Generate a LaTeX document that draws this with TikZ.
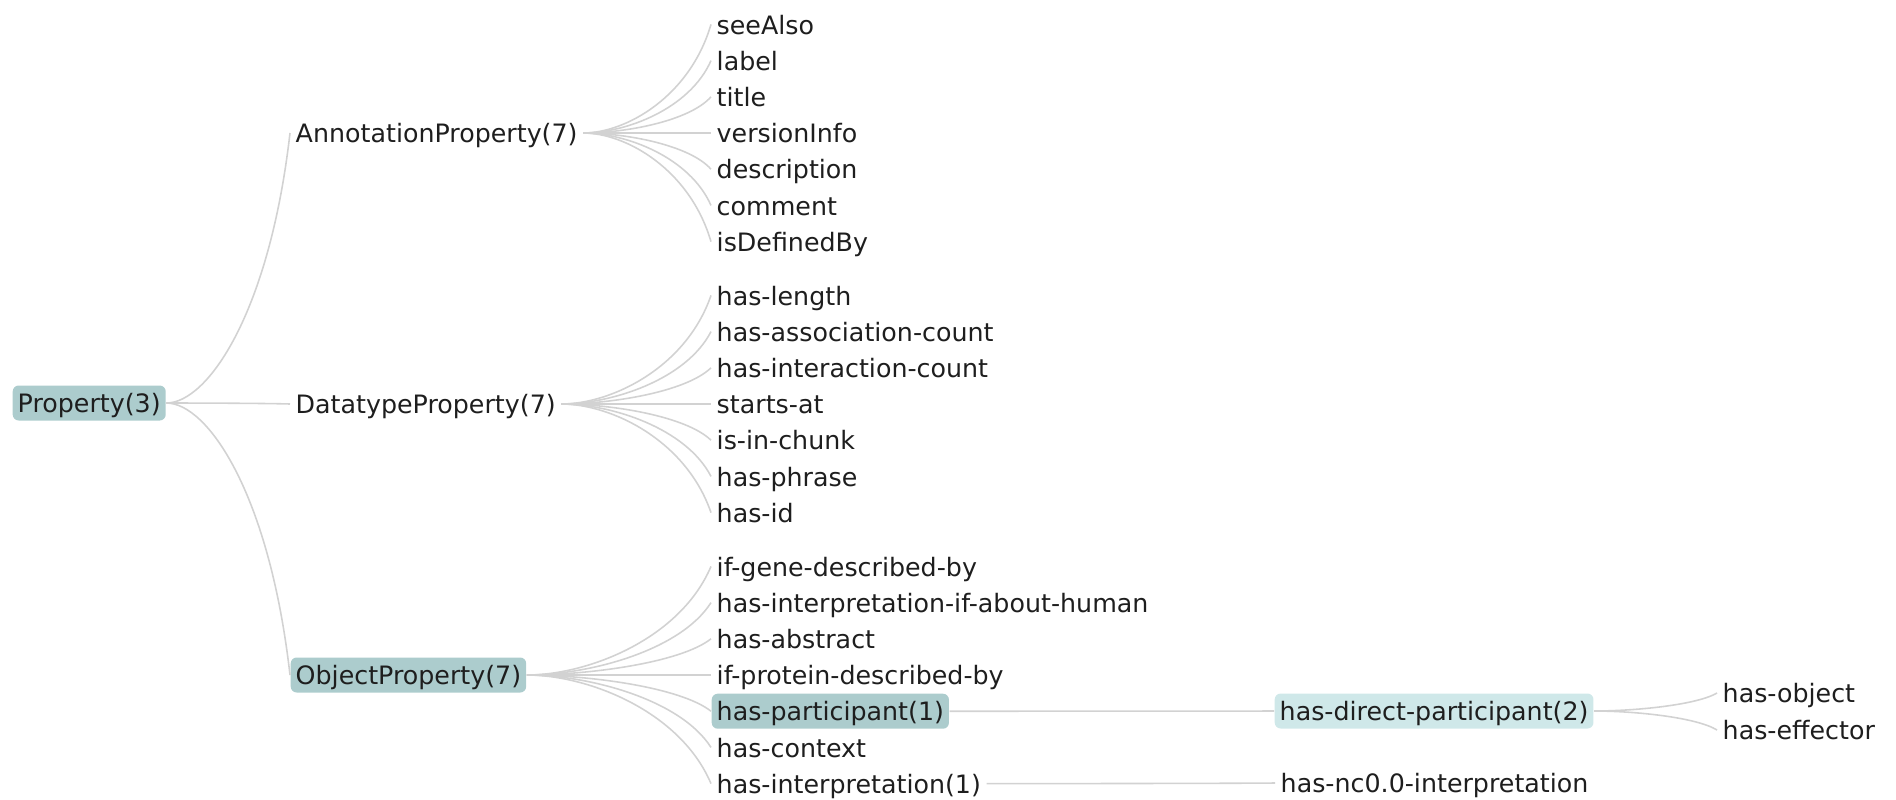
\documentclass[tikz,border=0pt]{standalone}
\usepackage{fontspec}
\setmainfont{DejaVu Sans}
\usepackage{xcolor}
\usepackage{tikz}
\usetikzlibrary{calc}

\definecolor{linkgray}{HTML}{D2D2D2}
\definecolor{openfill}{HTML}{ACCCCD}
\definecolor{leaffill}{HTML}{CFE8E9}
\definecolor{labelink}{HTML}{1E1E1E}

\tikzset{
    item/.style={anchor=west, inner xsep=0.05cm, inner ysep=0pt,
        minimum height=0.35cm, text height=0.75em, text depth=0.2em,
        rounded corners=0.06cm, text=labelink,
        font=\fontsize{7.2}{8}\selectfont},
    openbox/.style={item, fill=openfill},
    leafbox/.style={item, fill=leaffill},
    % quadratic curve, horizontal where it leaves the parent
    link/.style={draw=linkgray, line width=0.45pt,
        to path={let \p1=(\tikztostart), \p2=(\tikztotarget) in
            .. controls ({(2*\x1+\x2)/3},\y1) and ({(\x1+5*\x2)/6},{(2*\y1+\y2)/3}) .. (\tikztotarget)}}
}

\begin{document}
\begin{tikzpicture}[x=0.01cm, y=-0.01cm]
    \useasboundingbox (0,0) rectangle (1896,799);

    % Root
    \node[openbox] (prop) at (12,403) {Property(3)};

    % Property kinds
    \node[item] (ann) at (290,133) {AnnotationProperty(7)};
    \node[item] (dt) at (290,404) {DatatypeProperty(7)};
    \node[openbox] (obj) at (290,675) {ObjectProperty(7)};
    \foreach \k in {ann,dt,obj} {
        \draw[link] (prop.east) to (\k.west);
    }

    % Annotation properties
    \foreach \txt [count=\i] in {seeAlso,label,title,versionInfo,description,comment,isDefinedBy} {
        \node[item] (ann\i) at (711,{133+(\i-4)*36.2}) {\txt};
        \draw[link] (ann.east) to (ann\i.west);
    }

    % Datatype properties
    \foreach \txt [count=\i] in {has-length,has-association-count,has-interaction-count,starts-at,is-in-chunk,has-phrase,has-id} {
        \node[item] (dt\i) at (711,{404+(\i-4)*36.2}) {\txt};
        \draw[link] (dt.east) to (dt\i.west);
    }

    % Object properties
    \foreach \txt/\sty [count=\i] in {if-gene-described-by/item,has-interpretation-if-about-human/item,has-abstract/item,if-protein-described-by/item,has-participant(1)/openbox,has-context/item,has-interpretation(1)/item} {
        \node[\sty] (obj\i) at (711,{675+(\i-4)*36.2}) {\txt};
        \draw[link] (obj.east) to (obj\i.west);
    }

    % Sub-properties
    \node[leafbox] (direct) at (1274,711) {has-direct-participant(2)};
    \node[item] (nc) at (1275,783) {has-nc0.0-interpretation};
    \draw[link] (obj5.east) to (direct.west);
    \draw[link] (obj7.east) to (nc.west);

    \node[item] (object) at (1717,693) {has-object};
    \node[item] (effector) at (1717,730) {has-effector};
    \draw[link] (direct.east) to (object.west);
    \draw[link] (direct.east) to (effector.west);
\end{tikzpicture}
\end{document}
